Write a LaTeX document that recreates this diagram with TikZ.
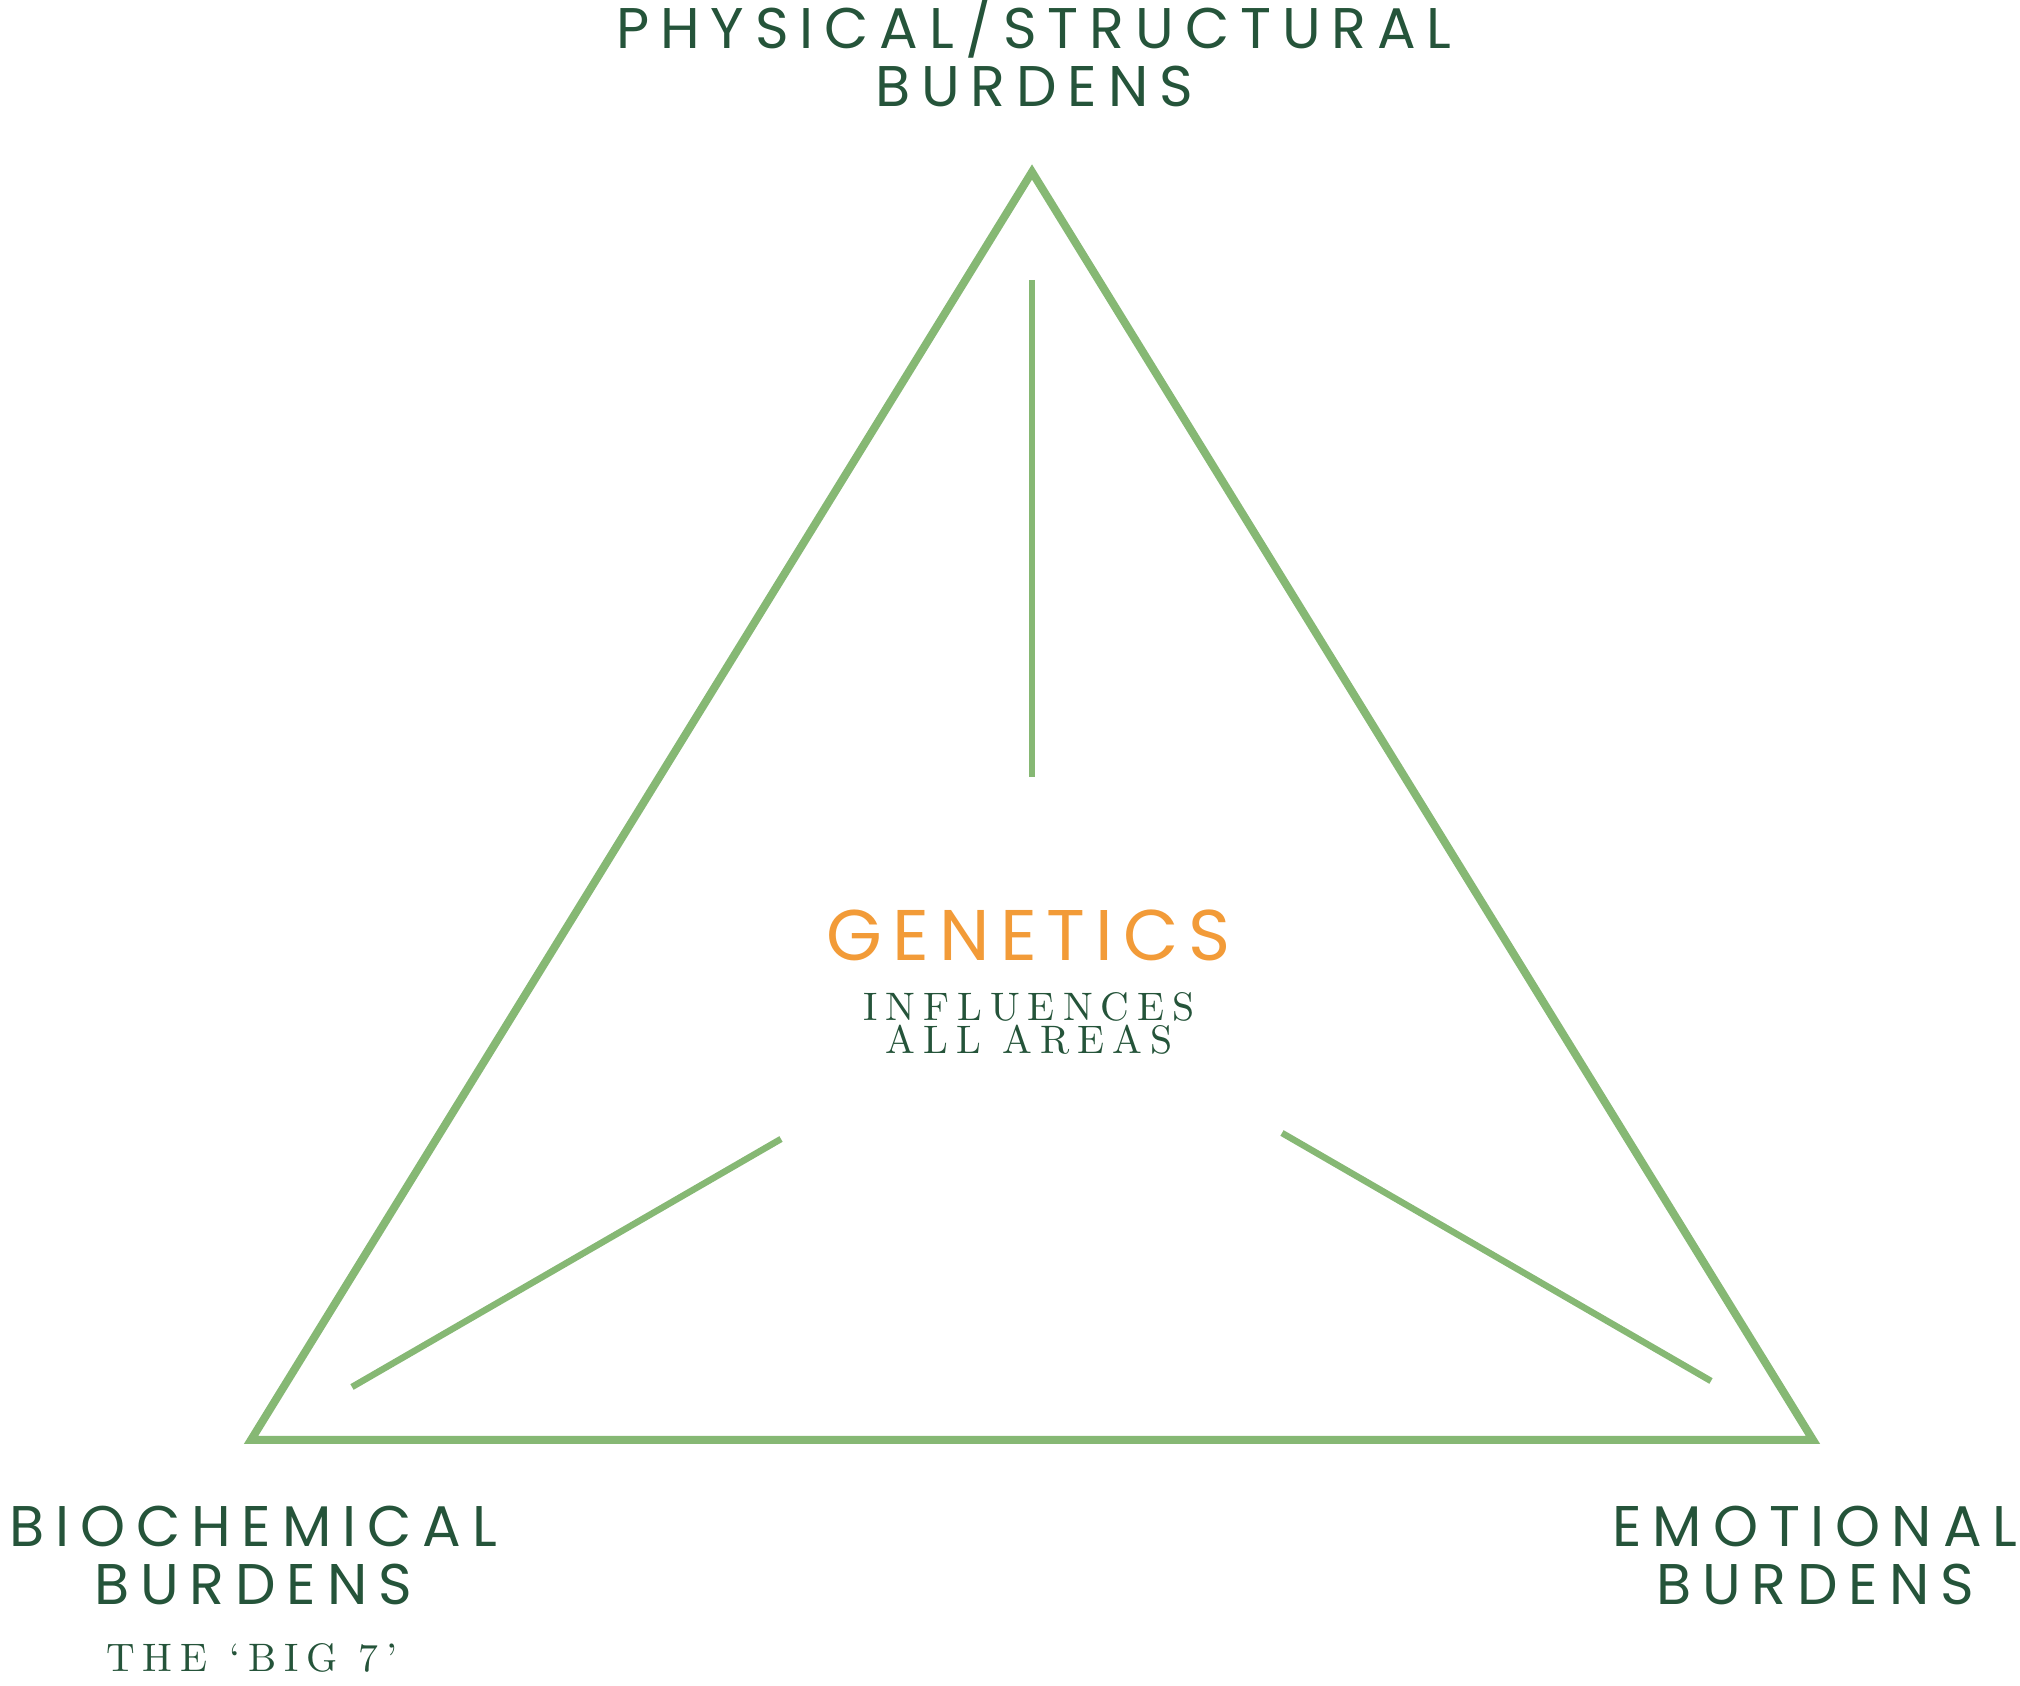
\documentclass[tikz,border=0pt]{standalone}
\usepackage{fontspec}
\newfontfamily\burdenfont{Poppins}[LetterSpace=19]
\newfontfamily\genefont{Poppins}[LetterSpace=14]
\newfontfamily\notefont{lmroman10-regular.otf}[LetterSpace=20]
\definecolor{burdengreen}{HTML}{25543A}
\definecolor{linegreen}{HTML}{86B874}
\definecolor{geneorange}{HTML}{F29B38}
\tikzset{
  burden/.style={align=center, text=burdengreen, inner sep=0pt,
    font=\burdenfont\fontsize{16.3}{16.5}\selectfont},
  gene/.style={align=center, text=geneorange, inner sep=0pt,
    font=\genefont\fontsize{20.4}{22}\selectfont},
  note/.style={align=center, text=burdengreen, inner sep=0pt,
    font=\notefont\fontsize{11.3}{9.4}\selectfont},
  frame/.style={draw=linegreen, line width=0.08cm},
  spoke/.style={draw=linegreen, line width=0.065cm}
}
\begin{document}
\begin{tikzpicture}[x=0.01cm, y=-0.01cm]
    \useasboundingbox (0, 0) rectangle (2020, 1686);

    % corners
    \coordinate (top) at (1032, 172);
    \coordinate (left) at (251, 1440);
    \coordinate (right) at (1813, 1440);

    % triangle
    \draw[frame] (top) -- (left) -- (right) -- cycle;

    % inner spokes
    \coordinate (s1a) at (1032, 280);
    \coordinate (s1b) at (1032, 777);
    \coordinate (s2a) at (352, 1387);
    \coordinate (s2b) at (781, 1139);
    \coordinate (s3a) at (1282, 1133);
    \coordinate (s3b) at (1711, 1381);
    \draw[spoke] (s1a) -- (s1b);
    \draw[spoke] (s2a) -- (s2b);
    \draw[spoke] (s3a) -- (s3b);

    % labels
    \node[burden, anchor=south] (physical) at (1034, 108) {PHYSICAL/STRUCTURAL\\BURDENS};
    \node[burden, anchor=south] (biochemical) at (253, 1606) {BIOCHEMICAL\\BURDENS};
    \node[burden, anchor=south] (emotional) at (1815, 1606) {EMOTIONAL\\BURDENS};
    \node[note, anchor=south] (big7) at (252, 1673) {THE ‘BIG 7’};

    % centre
    \node[gene, anchor=south] (genetics) at (1029, 962) {GENETICS};
    \node[note, anchor=south] (influences) at (1029, 1055) {INFLUENCES\\ALL AREAS};
\end{tikzpicture}
\end{document}
